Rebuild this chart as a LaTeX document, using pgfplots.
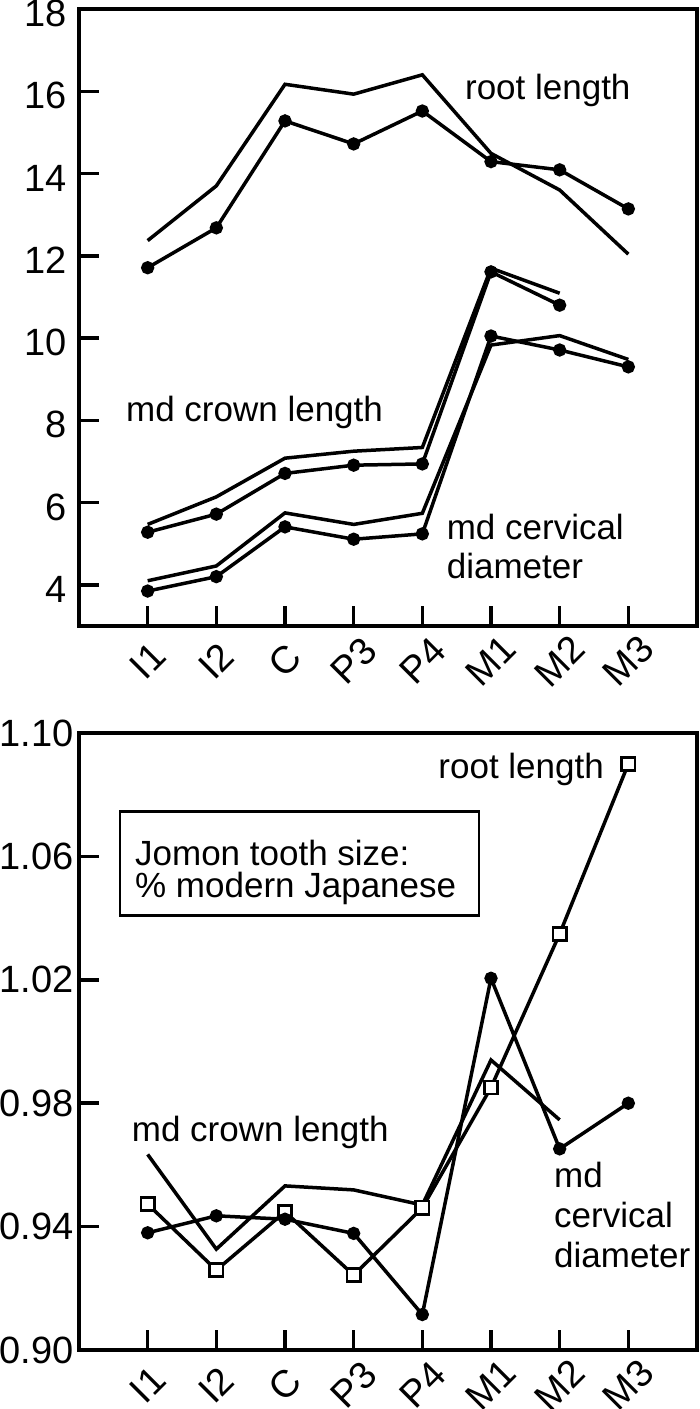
\documentclass[border=0pt]{standalone}
\usepackage{fontspec}
\setmainfont{Liberation Sans}
\usepackage{pgfplots}
\pgfplotsset{compat=1.18}
\tikzset{lab/.style={anchor=base west, inner sep=0pt, font=\fontsize{35}{40}\selectfont}}
\pgfplotsset{
 common/.style={
  scale only axis, width=618pt, height=617pt,
  xmin=0, xmax=9, xtick={1,...,8},
  xticklabels={I1,I2,C,P3,P4,M1,M2,M3},
  axis line style={line width=3.6pt},
  tick align=inside,
  major tick length=19pt,
  every tick/.style={draw=black, line width=3.5pt},
  xtick pos=left, ytick pos=left,
  tick label style={font=\fontsize{38}{40}\selectfont},
  /pgf/number format/assume math mode=true,
  xticklabel style={yshift=-35pt, rotate=45, anchor=center, inner sep=0pt},
  every axis plot/.append style={line width=3.5pt, black},
 },
 dot/.style={mark=*, mark size=5.4pt, mark options={solid, fill=black, line width=2.5pt}},
 sq/.style={mark=square*, mark size=6.6pt, mark options={solid, fill=white, draw=black, line width=2.6pt}},
 tickline/.style={no marks, line width=3.5pt, black},
}
\begin{document}
\begin{tikzpicture}
% ---------------- top panel ----------------
\begin{axis}[common, at={(79pt,-626pt)}, anchor=south west,
  ymin=3, ymax=18, ytick={4,6,8,10,12,14,16,18},
  yticklabel style={xshift=-9pt, yshift=-4.5pt}]
\addplot[ycomb, tickline] coordinates {(1,3.49)(2,3.49)(3,3.49)(4,3.49)(5,3.49)(6,3.49)(7,3.49)(8,3.49)};
\addplot[xcomb, tickline] coordinates {(0.29,4)(0.29,6)(0.29,8)(0.29,10)(0.29,12)(0.29,14)(0.29,16)};
\addplot[no marks] coordinates {(1,12.37)(2,13.70)(3,16.17)(4,15.93)(5,16.40)(6,14.49)(7,13.60)(8,12.04)};
\addplot[dot] coordinates {(1,11.71)(2,12.68)(3,15.28)(4,14.72)(5,15.52)(6,14.29)(7,14.09)(8,13.14)};
\addplot[no marks] coordinates {(1,5.47)(2,6.14)(3,7.08)(4,7.25)(5,7.34)(6,11.70)(7,11.09)};
\addplot[dot] coordinates {(1,5.28)(2,5.72)(3,6.71)(4,6.91)(5,6.94)(6,11.61)(7,10.80)};
\addplot[no marks] coordinates {(1,4.10)(2,4.46)(3,5.75)(4,5.47)(5,5.74)(6,9.83)(7,10.06)(8,9.48)};
\addplot[dot] coordinates {(1,3.85)(2,4.20)(3,5.41)(4,5.11)(5,5.24)(6,10.05)(7,9.71)(8,9.30)};
\node[lab] at (axis cs:5.62,15.80) {root length};
\node[lab] at (axis cs:0.684,7.97) {md crown length};
\node[lab] at (axis cs:5.354,5.11) {md cervical};
\node[lab] at (axis cs:5.354,4.16) {diameter};
\end{axis}
% ---------------- bottom panel ----------------
\begin{axis}[common, at={(79pt,-1350pt)}, anchor=south west,
  ymin=0.90, ymax=1.10, ytick={0.90,0.94,0.98,1.02,1.06,1.10},
  yticklabel style={xshift=-2pt, /pgf/number format/.cd, fixed, fixed zerofill, precision=2}]
\addplot[ycomb, tickline] coordinates {(1,0.9065)(2,0.9065)(3,0.9065)(4,0.9065)(5,0.9065)(6,0.9065)(7,0.9065)(8,0.9065)};
\addplot[xcomb, tickline] coordinates {(0.29,0.94)(0.29,0.98)(0.29,1.02)(0.29,1.06)};
\addplot[sq] coordinates {(1,0.9473)(2,0.9259)(3,0.9448)(4,0.9243)(5,0.9461)(6,0.9851)(7,1.0349)(8,1.0900)};
\addplot[no marks] coordinates {(1,0.9634)(2,0.9327)(3,0.9532)(4,0.9519)(5,0.9470)(6,0.9940)(7,0.9746)};
\addplot[dot] coordinates {(1,0.9380)(2,0.9435)(3,0.9424)(4,0.9378)(5,0.9115)(6,1.0205)(7,0.9652)(8,0.9800)};
\draw[line width=2.5pt] (axis cs:0.597,1.0746) rectangle (axis cs:5.825,1.0408);
\node[lab] at (axis cs:0.815,1.0571) {Jomon tooth size:};
\node[lab] at (axis cs:0.815,1.0468) {\% modern Japanese};
\node[lab] at (axis cs:5.232,1.0854) {root length};
\node[lab] at (axis cs:0.767,0.9675) {md crown length};
\node[lab] at (axis cs:6.917,0.9526) {md};
\node[lab] at (axis cs:6.917,0.9396) {cervical};
\node[lab] at (axis cs:6.917,0.9268) {diameter};
\end{axis}
\pgfresetboundingbox
\path[use as bounding box] (0,0) rectangle (700pt,-1409pt);
\end{tikzpicture}
\end{document}
